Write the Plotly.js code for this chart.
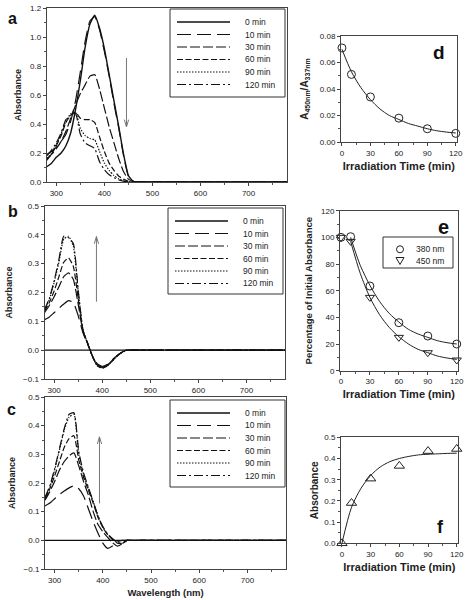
<!DOCTYPE html>
<html>
<head>
<meta charset="utf-8">
<script src="https://cdn.plot.ly/plotly-3.0.1.min.js"></script>
<style>html,body{margin:0;padding:0;background:#fff;}#chart{width:469px;height:600px;}</style>
</head>
<body>
<div id="chart"></div>
<script>
// ---------- DATA ----------
const wavelength = [280,290,300,310,320,330,340,350,360,370,380,390,400,410,420,430,440,450,460,480,550,650,780];
const seriesNames = ["0 min","10 min","30 min","60 min","90 min","120 min"];

// panel a : absorption spectra
const a0   = [0.105,0.13,0.17,0.20,0.25,0.34,0.50,0.70,0.93,1.09,1.15,1.06,0.92,0.74,0.56,0.38,0.19,0.045,0.005,0,0,0,0];
const a10  = [0.19,0.21,0.24,0.28,0.33,0.42,0.56,0.76,0.97,1.11,1.14,1.05,0.90,0.73,0.54,0.37,0.18,0.04,0.005,0,0,0,0];
const a30  = [0.16,0.19,0.23,0.28,0.35,0.44,0.53,0.61,0.67,0.73,0.74,0.64,0.51,0.38,0.27,0.16,0.07,0.02,0.005,0,0,0,0];
const a60  = [0.15,0.19,0.25,0.32,0.41,0.46,0.48,0.44,0.43,0.43,0.41,0.31,0.21,0.13,0.08,0.04,0.02,0.005,0,0,0,0,0];
const a90  = [0.16,0.20,0.26,0.33,0.42,0.47,0.48,0.37,0.32,0.30,0.29,0.21,0.13,0.08,0.045,0.02,0.01,0.003,0,0,0,0,0];
const a120 = [0.18,0.22,0.27,0.34,0.43,0.46,0.47,0.33,0.27,0.25,0.23,0.14,0.085,0.05,0.03,0.015,0.005,0,0,0,0,0,0];

// panel b : difference spectra
const b0   = [0,0,0,0,0,0,0,0,0,0,0,0,0,0,0,0,0,0,0,0,0,0,0];
const b10  = [0.105,0.115,0.13,0.145,0.16,0.172,0.165,0.12,0.06,0.02,-0.02,-0.048,-0.056,-0.05,-0.035,-0.02,-0.008,0,0,0,0,0,0];
const b30  = [0.13,0.155,0.185,0.22,0.255,0.268,0.245,0.16,0.065,0.02,-0.022,-0.052,-0.06,-0.052,-0.037,-0.02,-0.008,0,0,0,0,0,0];
const b60  = [0.135,0.165,0.205,0.255,0.305,0.32,0.29,0.18,0.068,0.022,-0.022,-0.052,-0.06,-0.053,-0.038,-0.021,-0.008,0,0,0,0,0,0];
const b90  = [0.14,0.175,0.235,0.305,0.385,0.395,0.36,0.205,0.07,0.023,-0.023,-0.055,-0.062,-0.055,-0.04,-0.022,-0.009,0,0,0,0,0,0];
const b120 = [0.14,0.18,0.24,0.315,0.395,0.39,0.37,0.21,0.07,0.023,-0.024,-0.055,-0.063,-0.055,-0.04,-0.022,-0.009,0,0,0,0,0,0];

// panel c : difference spectra
const c0   = [0,0,0,0,0,0,0,0,0,0,0,0,0,0,0,0,0,0,0,0,0,0,0];
const c10  = [0.12,0.13,0.145,0.16,0.172,0.183,0.19,0.18,0.155,0.11,0.065,0.025,-0.01,-0.028,-0.02,-0.005,0,0,0,0,0,0,0];
const c30  = [0.14,0.17,0.205,0.245,0.275,0.295,0.305,0.26,0.205,0.158,0.10,0.055,0.03,0.01,-0.008,-0.02,-0.012,0,0,0,0,0,0];
const c60  = [0.145,0.18,0.225,0.275,0.325,0.355,0.365,0.28,0.22,0.175,0.13,0.08,0.045,0.02,0.003,-0.01,-0.01,0,0,0,0,0,0];
const c90  = [0.145,0.185,0.245,0.315,0.385,0.43,0.44,0.30,0.23,0.18,0.135,0.085,0.045,0.02,0.005,-0.008,-0.01,0,0,0,0,0,0];
const c120 = [0.15,0.19,0.25,0.32,0.39,0.44,0.445,0.31,0.235,0.185,0.135,0.085,0.048,0.022,0.006,-0.008,-0.012,0,0,0,0,0,0];

// panel d
const timePts = [0,10,30,60,90,120];
const dRatio  = [0.071,0.051,0.034,0.018,0.010,0.0065];
const fitTime = [0,10,20,30,40,50,60,70,80,90,100,110,120];
const dFit    = [0.070,0.053,0.041,0.032,0.025,0.020,0.017,0.014,0.012,0.010,0.0085,0.0075,0.0068];

// panel e
const e380 = [100,100.5,63.5,36,26,20];
const e450 = [100,97,55,25,13.5,8];
const eFitTime = [10,20,30,40,50,60,70,80,90,100,110,120];
const eFit380  = [100,79,64,52,43,36.5,31,27.5,25,22.5,21,20];
const eFit450  = [97,73,55,42,32.5,25.5,20,16,13.5,11,9.5,8.5];
const eNames = ["380 nm","450 nm"];

// panel f
const fAbs = [0,0.19,0.305,0.365,0.435,0.445];
const fFit = [0,0.17,0.26,0.32,0.36,0.385,0.40,0.41,0.417,0.42,0.422,0.424,0.425];

// ---------- STYLE ----------
const FONT = "Liberation Sans, Arial, Helvetica, sans-serif";
const dashes = ["solid","14px,6px","10px,3px","6px,2.5px","1.5px,1.5px","9px,3px,2px,3px"];
const W = 469, H = 600;
const px = v => v / W;
const py = v => 1 - v / H;

const traces = [];
function addSpectra(ys, xa, ya) {
  ys.forEach((y, i) => {
    traces.push({
      x: wavelength, y: y, xaxis: xa, yaxis: ya, type: "scatter", mode: "lines",
      name: seriesNames[i], showlegend: false,
      line: {color: "#111", width: i === 0 ? 1.4 : 1.2, dash: dashes[i], shape: "spline", smoothing: 0.5}
    });
  });
}
addSpectra([a0,a10,a30,a60,a90,a120], "x", "y");
addSpectra([b0,b10,b30,b60,b90,b120], "x2", "y2");
addSpectra([c0,c10,c30,c60,c90,c120], "x3", "y3");

function fitLine(x, y, xa, ya) {
  traces.push({x: x, y: y, xaxis: xa, yaxis: ya, type: "scatter", mode: "lines", showlegend: false,
    line: {color: "#222", width: 1, shape: "spline", smoothing: 0.8}});
}
function pts(x, y, xa, ya, sym, size) {
  traces.push({x: x, y: y, xaxis: xa, yaxis: ya, type: "scatter", mode: "markers", showlegend: false, cliponaxis: false,
    marker: {symbol: sym, size: size, color: "rgba(255,255,255,0)", line: {color: "#222", width: 1}}});
}
fitLine(fitTime, dFit, "x4", "y4");
pts(timePts, dRatio, "x4", "y4", "circle", 8);
fitLine(eFitTime, eFit380, "x5", "y5");
fitLine(eFitTime, eFit450, "x5", "y5");
pts(timePts, e380, "x5", "y5", "circle", 8);
pts(timePts, e450, "x5", "y5", "triangle-down", 8);
fitLine(fitTime, fFit, "x6", "y6");
pts(timePts, fAbs, "x6", "y6", "triangle-up", 9);

// ---------- AXES ----------
const tickFont = {family: FONT, size: 8, color: "#222"};
function xAx(dom, range, dtick, minor, anchor, title, tsize) {
  const ax = {domain: dom, range: range, dtick: dtick, tick0: 0, anchor: anchor,
    showline: true, mirror: true, linecolor: "#444", linewidth: 1,
    ticks: "outside", ticklen: 3, tickcolor: "#444", tickfont: tickFont,
    minor: {dtick: minor, ticks: "outside", ticklen: 2, tickcolor: "#555"},
    showgrid: false, zeroline: false, fixedrange: true};
  if (title) ax.title = {text: title, font: {family: FONT, size: tsize, color: "#222", weight: "bold"}, standoff: 5};
  return ax;
}
function yAx(dom, range, dtick, minor, anchor, fmt, title, tsize, standoff) {
  return {domain: dom, range: range, dtick: dtick, tick0: 0, anchor: anchor, tickformat: fmt,
    showline: true, mirror: true, linecolor: "#444", linewidth: 1,
    ticks: "outside", ticklen: 3, tickcolor: "#444", tickfont: tickFont,
    minor: {dtick: minor, ticks: "outside", ticklen: 2, tickcolor: "#555"},
    showgrid: false, zeroline: false, fixedrange: true,
    title: {text: title, font: {family: FONT, size: tsize, color: "#222", weight: "bold"}, standoff: standoff}};
}

// ---------- LEGENDS (drawn as shapes + text) ----------
const shapes = [];
const annotations = [];
function specLegend(bx, by, bw, bh) {
  shapes.push({type: "rect", xref: "paper", yref: "paper", x0: px(bx), x1: px(bx + bw), y0: py(by + bh), y1: py(by),
    line: {color: "#333", width: 1}, fillcolor: "rgba(0,0,0,0)"});
  seriesNames.forEach((n, i) => {
    const yy = by + 13 + i * 12.5;
    shapes.push({type: "line", xref: "paper", yref: "paper", x0: px(bx + 7), x1: px(bx + 60), y0: py(yy), y1: py(yy),
      line: {color: "#111", width: i === 0 ? 1.5 : 1.2, dash: dashes[i]}});
    annotations.push({xref: "paper", yref: "paper", x: px(bx + 72.5), y: py(yy), xanchor: "left", yanchor: "middle",
      text: n, showarrow: false, font: {family: FONT, size: 8.5, color: "#222"}});
  });
}
specLegend(170, 9, 115, 88);
specLegend(168, 208, 115, 86);
specLegend(170, 400, 115, 87);

// panel e legend
shapes.push({type: "rect", xref: "paper", yref: "paper", x0: px(383), x1: px(453), y0: py(268), y1: py(237),
  line: {color: "#333", width: 1}, fillcolor: "rgba(0,0,0,0)"});
shapes.push({type: "circle", xref: "paper", yref: "paper", x0: px(396.5), x1: px(403.5), y0: py(252.8), y1: py(245.8),
  line: {color: "#222", width: 1}});
shapes.push({type: "path", xref: "paper", yref: "paper",
  path: `M ${px(396)} ${py(257.5)} L ${px(404)} ${py(257.5)} L ${px(400)} ${py(264.5)} Z`,
  line: {color: "#222", width: 1}});
eNames.forEach((n, i) => {
  annotations.push({xref: "paper", yref: "paper", x: px(414), y: py(249.3 + i * 11.7), xanchor: "left", yanchor: "middle",
    text: n, showarrow: false, font: {family: FONT, size: 8.5, color: "#222"}});
});

// panel letters
[["a",12.7,18.3,16],["b",12.7,211.7,16],["c",11.7,409.3,16],["d",439,52.7,19],["e",443,226.7,20],["f",440.7,526.7,18]].forEach(l => {
  annotations.push({xref: "paper", yref: "paper", x: px(l[1]), y: py(l[2]), xanchor: "center", yanchor: "middle",
    text: "<b>" + l[0] + "</b>", showarrow: false, font: {family: FONT, size: l[3], color: "#111"}});
});

// arrows (gray line with open arrowhead), drawn as shapes in data units
function arrow(xa, ya, x, yHead, yTail, hw, hl) {
  const dir = yHead > yTail ? -1 : 1;
  shapes.push({type: "line", xref: xa, yref: ya, x0: x, x1: x, y0: yTail, y1: yHead, line: {color: "#777", width: 1}});
  shapes.push({type: "path", xref: xa, yref: ya,
    path: `M ${x - hw} ${yHead + dir * hl} L ${x} ${yHead} L ${x + hw} ${yHead + dir * hl}`,
    line: {color: "#777", width: 1}});
}
arrow("x", "y", 446, 0.38, 0.855, 4.5, 0.05);
arrow("x2", "y2", 388, 0.394, 0.168, 4.5, 0.025);
arrow("x3", "y3", 393, 0.361, 0.129, 4.5, 0.025);

const layout = {
  width: W, height: H, margin: {l: 0, r: 0, t: 0, b: 0},
  paper_bgcolor: "#fff", plot_bgcolor: "#fff", showlegend: false,
  font: {family: FONT, color: "#222"},
  xaxis:  xAx([px(46.7), px(287)], [280, 780], 100, 50, "y"),
  yaxis:  yAx([py(182), py(8)], [0, 1.2], 0.2, 0.1, "x", ".1f", "Absorbance", 9, 6),
  xaxis2: xAx([px(44.5), px(285)], [280, 780], 100, 50, "y2"),
  yaxis2: yAx([py(379), py(206)], [-0.1, 0.5], 0.1, 0.05, "x2", ".1f", "Absorbance", 9, 8),
  xaxis3: xAx([px(45), px(286)], [280, 780], 100, 50, "y3", "Wavelength (nm)", 9.5),
  yaxis3: yAx([py(569), py(397)], [-0.1, 0.5], 0.1, 0.05, "x3", ".1f", "Absorbance", 9, 6),
  xaxis4: xAx([px(341), px(456.7)], [-1, 121], 30, 15, "y4", "Irradiation Time (min)", 11),
  yaxis4: yAx([py(142), py(36)], [0, 0.08], 0.02, 0.01, "x4", ".2f", "A<sub>450nm</sub>/A<sub>337nm</sub>", 10, 9),
  xaxis5: xAx([px(340), px(457.7)], [-1, 121], 30, 15, "y5", "Irradiation Time (min)", 11),
  yaxis5: yAx([py(370.7), py(210.7)], [0, 120], 20, 10, "x5", "d", "Percentage of Initial Absorbance", 9.5, 6),
  xaxis6: xAx([px(341), px(457.7)], [-1, 121], 30, 15, "y6", "Irradiation Time (min)", 11),
  yaxis6: yAx([py(543.3), py(437.3)], [0, 0.5], 0.1, 0.05, "x6", ".1f", "Absorbance", 10, 3),
  shapes: shapes, annotations: annotations
};

Plotly.newPlot("chart", traces, layout, {displayModeBar: false, staticPlot: true});
</script>
</body>
</html>
